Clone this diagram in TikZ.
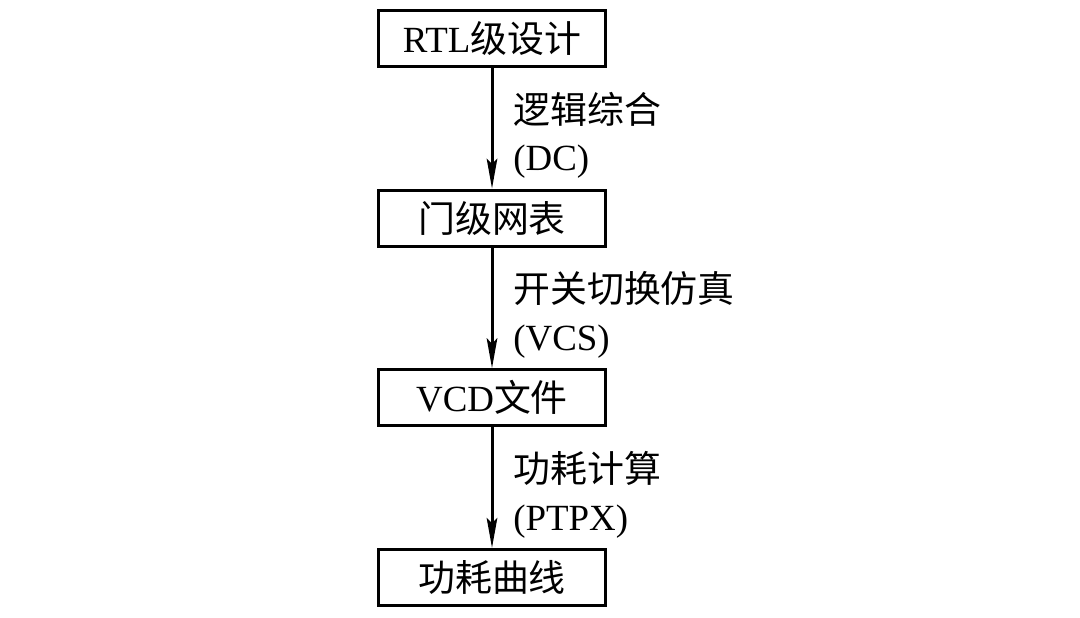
\documentclass[tikz,border=0pt]{standalone}
\usepackage{fontspec}
\setmainfont{Liberation Serif}
\newfontfamily\cjk{Noto Sans CJK SC}
\usetikzlibrary{arrows.meta, positioning, calc}

\begin{document}
\begin{tikzpicture}[
  stage/.style={draw, line width=1.8pt, minimum width=4.55cm, minimum height=1.12cm,
                inner sep=0pt, font=\fontsize{21}{25}\selectfont},
  tool/.style={anchor=west, align=left, inner sep=0pt, font=\fontsize{21}{27}\selectfont},
  flow/.style={-{Stealth[length=17pt, width=6pt, inset=3pt]}, line width=1.7pt}]
  \useasboundingbox (0,0) rectangle (21.6,12.34);
  % stages
  \node[stage] (rtl) at (9.84,11.57) {RTL{\cjk 级设计}};
  \node[stage, below=2.41cm of rtl] (gate) {{\cjk 门级网表}};
  \node[stage, below=2.41cm of gate] (vcd) {VCD{\cjk 文件}};
  \node[stage, below=2.41cm of vcd] (power) {{\cjk 功耗曲线}};
  % arrows
  \draw[flow] (rtl) -- (gate);
  \draw[flow] (gate) -- (vcd);
  \draw[flow] (vcd) -- (power);
  % tools
  \node[tool, xshift=0.42cm, yshift=-0.14cm] (dc) at ($(rtl.south)!0.5!(gate.north)$) {{\cjk 逻辑综合}\\(DC)};
  \node[tool, xshift=0.42cm, yshift=-0.14cm] (vcs) at ($(gate.south)!0.5!(vcd.north)$) {{\cjk 开关切换仿真}\\(VCS)};
  \node[tool, xshift=0.42cm, yshift=-0.14cm] (ptpx) at ($(vcd.south)!0.5!(power.north)$) {{\cjk 功耗计算}\\(PTPX)};
\end{tikzpicture}
\end{document}
